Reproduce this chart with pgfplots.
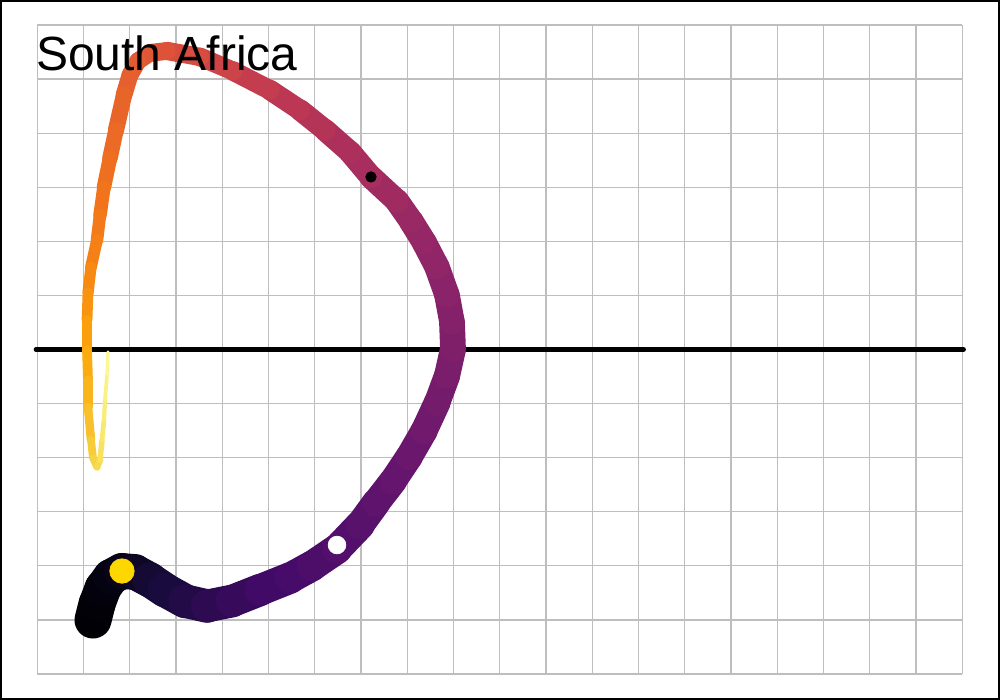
\documentclass[border=0pt]{standalone}
\usepackage{fontspec}
\setmainfont{Liberation Sans}
\usepackage{pgfplots}
\pgfplotsset{compat=1.18}
\pgfplotsset{colormap={inferno}{rgb255(0cm)=(0,0,4) rgb255(1cm)=(22,11,57) rgb255(2cm)=(66,10,104) rgb255(3cm)=(106,23,110) rgb255(4cm)=(147,38,103) rgb255(5cm)=(188,55,84) rgb255(6cm)=(221,81,58) rgb255(7cm)=(243,120,25) rgb255(8cm)=(252,165,10) rgb255(9cm)=(246,215,70) rgb255(10cm)=(252,255,164)}}
\definecolor{gridgray}{RGB}{190,190,190}
\definecolor{dotgold}{RGB}{255,215,0}
\begin{document}
\begin{tikzpicture}
\useasboundingbox (0,0) rectangle (500pt,350pt);
\begin{axis}[at={(18.65pt,13pt)}, anchor=south west, scale only axis,
  width=462.5pt, height=324.5pt, xmin=0, xmax=20, ymin=-6, ymax=6,
  xtick={0,1,...,20}, ytick={-6,-5,...,6}, xticklabels={}, yticklabels={},
  tick style={draw=none}, axis line style={draw=none},
  grid=major, major grid style={draw=gridgray, line width=0.6pt}, clip=false,
  every axis plot/.append style={line cap=round, line join=round}]
\addplot[black, line width=2.2pt] coordinates {(-0.03,0) (20.03,0)};
% trajectory segments
\addplot[line width=18.5pt, color of colormap={2.5 of inferno}] coordinates {(1.204,-5.002) (1.291,-4.706)};
\addplot[line width=18.375pt, color of colormap={7.5 of inferno}] coordinates {(1.291,-4.706) (1.421,-4.410)};
\addplot[line width=18.125pt, color of colormap={15 of inferno}] coordinates {(1.421,-4.410) (1.594,-4.207)};
\addplot[line width=18pt, color of colormap={25 of inferno}] coordinates {(1.594,-4.207) (1.831,-4.096)};
\addplot[line width=17.875pt, color of colormap={40 of inferno}] coordinates {(1.831,-4.096) (2.112,-4.114)};
\addplot[line width=17.625pt, color of colormap={65 of inferno}] coordinates {(2.112,-4.114) (2.437,-4.262)};
\addplot[line width=17.375pt, color of colormap={90 of inferno}] coordinates {(2.437,-4.262) (2.761,-4.447)};
\addplot[line width=17.125pt, color of colormap={110 of inferno}] coordinates {(2.761,-4.447) (3.194,-4.651)};
\addplot[line width=16.75pt, color of colormap={130 of inferno}] coordinates {(3.194,-4.651) (3.669,-4.743)};
\addplot[line width=16.375pt, color of colormap={152 of inferno}] coordinates {(3.669,-4.743) (4.210,-4.651)};
\addplot[line width=16.125pt, color of colormap={175 of inferno}] coordinates {(4.210,-4.651) (4.815,-4.447)};
\addplot[line width=15.75pt, color of colormap={195 of inferno}] coordinates {(4.815,-4.447) (5.464,-4.225)};
\addplot[line width=15.375pt, color of colormap={212 of inferno}] coordinates {(5.464,-4.225) (5.939,-4.003)};
\addplot[line width=15.125pt, color of colormap={228 of inferno}] coordinates {(5.939,-4.003) (6.480,-3.689)};
\addplot[line width=14.75pt, color of colormap={242 of inferno}] coordinates {(6.480,-3.689) (6.977,-3.245)};
\addplot[line width=14.25pt, color of colormap={258 of inferno}] coordinates {(6.977,-3.245) (7.323,-2.838)};
\addplot[line width=13.875pt, color of colormap={272 of inferno}] coordinates {(7.323,-2.838) (7.691,-2.432)};
\addplot[line width=13.625pt, color of colormap={288 of inferno}] coordinates {(7.691,-2.432) (8.037,-1.988)};
\addplot[line width=13.5pt, color of colormap={302 of inferno}] coordinates {(8.037,-1.988) (8.361,-1.507)};
\addplot[line width=13.375pt, color of colormap={315 of inferno}] coordinates {(8.361,-1.507) (8.642,-0.989)};
\addplot[line width=13.125pt, color of colormap={326 of inferno}] coordinates {(8.642,-0.989) (8.858,-0.490)};
\addplot[line width=13pt, color of colormap={339 of inferno}] coordinates {(8.858,-0.490) (8.988,0.009)};
\addplot[line width=12.875pt, color of colormap={351 of inferno}] coordinates {(8.988,0.009) (8.966,0.509)};
\addplot[line width=12.75pt, color of colormap={364 of inferno}] coordinates {(8.966,0.509) (8.858,1.008)};
\addplot[line width=12.625pt, color of colormap={378 of inferno}] coordinates {(8.858,1.008) (8.642,1.526)};
\addplot[line width=12.5pt, color of colormap={392 of inferno}] coordinates {(8.642,1.526) (8.361,1.988)};
\addplot[line width=12.375pt, color of colormap={405 of inferno}] coordinates {(8.361,1.988) (8.080,2.376)};
\addplot[line width=12.125pt, color of colormap={415 of inferno}] coordinates {(8.080,2.376) (7.777,2.746)};
\addplot[line width=11.75pt, color of colormap={430 of inferno}] coordinates {(7.777,2.746) (7.215,3.190)};
\addplot[line width=11.375pt, color of colormap={448 of inferno}] coordinates {(7.215,3.190) (6.761,3.652)};
\addplot[line width=11.125pt, color of colormap={462 of inferno}] coordinates {(6.761,3.652) (6.220,4.059)};
\addplot[line width=10.75pt, color of colormap={480 of inferno}] coordinates {(6.220,4.059) (5.680,4.429)};
\addplot[line width=10.25pt, color of colormap={500 of inferno}] coordinates {(5.680,4.429) (5.031,4.798)};
\addplot[line width=9.75pt, color of colormap={522 of inferno}] coordinates {(5.031,4.798) (4.231,5.150)};
\addplot[line width=9.375pt, color of colormap={550 of inferno}] coordinates {(4.231,5.150) (3.518,5.409)};
\addplot[line width=9.125pt, color of colormap={580 of inferno}] coordinates {(3.518,5.409) (2.804,5.520)};
\addplot[line width=8.875pt, color of colormap={602 of inferno}] coordinates {(2.804,5.520) (2.437,5.483)};
\addplot[line width=8.625pt, color of colormap={615 of inferno}] coordinates {(2.437,5.483) (2.177,5.335)};
\addplot[line width=8.5pt, color of colormap={625 of inferno}] coordinates {(2.177,5.335) (2.004,5.076)};
\addplot[line width=8.375pt, color of colormap={638 of inferno}] coordinates {(2.004,5.076) (1.875,4.706)};
\addplot[line width=8.125pt, color of colormap={652 of inferno}] coordinates {(1.875,4.706) (1.702,4.059)};
\addplot[line width=7.75pt, color of colormap={665 of inferno}] coordinates {(1.702,4.059) (1.572,3.541)};
\addplot[line width=7.25pt, color of colormap={678 of inferno}] coordinates {(1.572,3.541) (1.442,3.005)};
\addplot[line width=6.75pt, color of colormap={690 of inferno}] coordinates {(1.442,3.005) (1.356,2.487)};
\addplot[line width=6.25pt, color of colormap={702 of inferno}] coordinates {(1.356,2.487) (1.291,2.025)};
\addplot[line width=5.875pt, color of colormap={720 of inferno}] coordinates {(1.291,2.025) (1.161,1.526)};
\addplot[line width=5.625pt, color of colormap={740 of inferno}] coordinates {(1.161,1.526) (1.096,1.045)};
\addplot[line width=5.375pt, color of colormap={762 of inferno}] coordinates {(1.096,1.045) (1.075,0.545)};
\addplot[line width=5.125pt, color of colormap={788 of inferno}] coordinates {(1.075,0.545) (1.075,-0.009)};
\addplot[line width=4.875pt, color of colormap={810 of inferno}] coordinates {(1.075,-0.009) (1.096,-0.564)};
\addplot[line width=4.625pt, color of colormap={830 of inferno}] coordinates {(1.096,-0.564) (1.096,-1.063)};
\addplot[line width=4.25pt, color of colormap={855 of inferno}] coordinates {(1.096,-1.063) (1.161,-1.673)};
\addplot[line width=3.875pt, color of colormap={878 of inferno}] coordinates {(1.161,-1.673) (1.204,-2.006)};
\addplot[line width=3.625pt, color of colormap={892 of inferno}] coordinates {(1.204,-2.006) (1.291,-2.173)};
\addplot[line width=3.25pt, color of colormap={910 of inferno}] coordinates {(1.291,-2.173) (1.356,-2.043)};
\addplot[line width=2.75pt, color of colormap={928 of inferno}] coordinates {(1.356,-2.043) (1.399,-1.673)};
\addplot[line width=2.375pt, color of colormap={942 of inferno}] coordinates {(1.399,-1.673) (1.442,-1.304)};
\addplot[line width=2.125pt, color of colormap={955 of inferno}] coordinates {(1.442,-1.304) (1.464,-0.934)};
\addplot[line width=1.875pt, color of colormap={968 of inferno}] coordinates {(1.464,-0.934) (1.507,-0.472)};
\addplot[line width=1.625pt, color of colormap={982 of inferno}] coordinates {(1.507,-0.472) (1.529,-0.046)};
% markers
\addplot[only marks, mark=*, mark size=6.1pt, color=dotgold] coordinates {(1.831,-4.096)};
\addplot[only marks, mark=*, mark size=4.4pt, color=white] coordinates {(6.480,-3.615)};
\addplot[only marks, mark=*, mark size=2.6pt, color=black] coordinates {(7.215,3.190)};
\end{axis}
\node[anchor=base west, inner sep=0pt, font=\fontsize{24}{28}\selectfont] at (17.9pt,314.6pt) {South Africa};
\draw[line width=0.9pt] (0.45pt,0.45pt) rectangle (499.55pt,349.55pt);
\end{tikzpicture}
\end{document}
